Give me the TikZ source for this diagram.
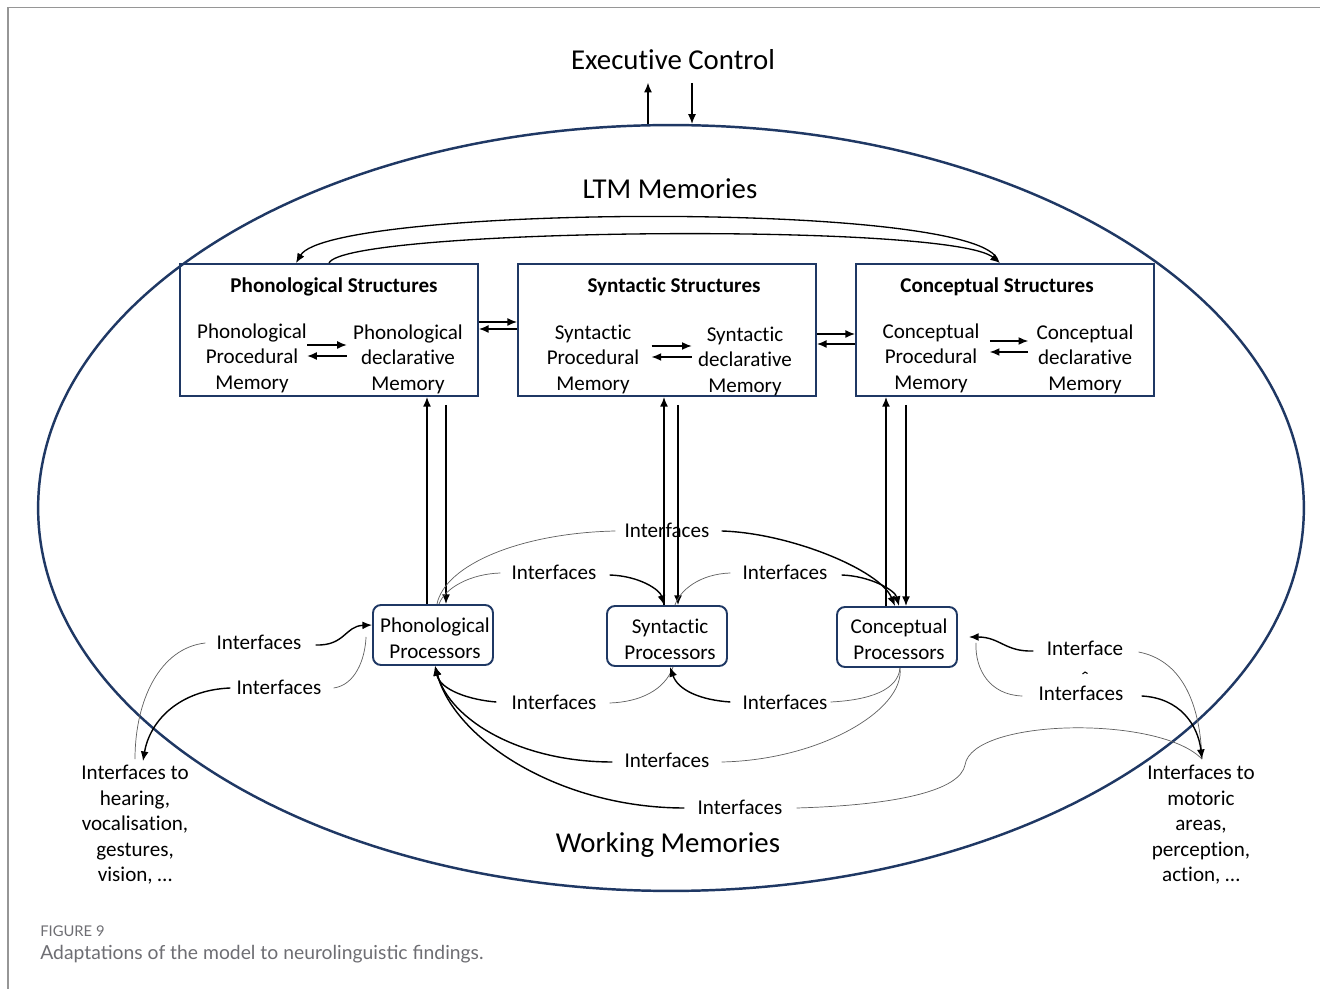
\documentclass[tikz,border=0pt]{standalone}
\usepackage{fontspec}
\setmainfont{Carlito}[Ligatures={NoCommon,NoDiscretionary,NoContextual}]
\newfontfamily\capfont{Lato}
\usetikzlibrary{arrows.meta,shapes.geometric,calc}
\definecolor{navy}{RGB}{31,56,100}
\definecolor{capgray}{RGB}{110,110,115}
\definecolor{linkgray}{RGB}{95,95,95}
\definecolor{framegray}{RGB}{150,150,150}
\tikzset{
  big/.style={font=\fontsize{16.4}{19}\selectfont, inner sep=0},
  txt/.style={font=\fontsize{12}{14.5}\selectfont, align=center, inner sep=0},
  ptxt/.style={font=\fontsize{12}{14.8}\selectfont, align=center, inner sep=0},
  ttl/.style={font=\bfseries\fontsize{12}{14.5}\selectfont, inner sep=0},
  iface/.style={font=\fontsize{12}{14.5}\selectfont, inner sep=0},
  structbox/.style={draw=navy, line width=1.1pt, minimum width=5.96cm, minimum height=2.64cm, inner sep=0},
  procbox/.style={draw=navy, line width=1.1pt, rounded corners=4.5pt, minimum width=2.4cm,
    minimum height=1.2cm, inner sep=0},
  arr/.style={-{Latex[length=5.5pt,width=4.5pt]}, line width=0.75pt},
  flow/.style={-{Latex[length=5.5pt,width=4.5pt]}, line width=0.8pt},
  link/.style={draw=linkgray, line width=0.4pt},
}
\begin{document}
\begin{tikzpicture}[x=0.02cm,y=-0.02cm]
\fill[white] (0,0) rectangle (1320,989);
\useasboundingbox (0,0) rectangle (1320,989);
\draw[framegray, line width=0.9pt] (8,989) -- (8,7.5) -- (1320,7.5);

% outer memory ellipse
\node[draw=navy, line width=1.4pt, ellipse, minimum width=25.32cm, minimum height=15.32cm, inner sep=0] (wm) at (671,508) {};

% headings
\node[big] (exec) at (673,60) {Executive Control};
\node[big] (ltm) at (670,189) {LTM Memories};
\node[big] (wml) at (668,845) {Working Memories};

% executive control links
\coordinate (eu) at ($(wm.north)+(-23,0)$);
\coordinate (ed) at ($(wm.north)+(21,0)$);
\draw[arr, line width=0.6pt, shorten >=7pt] (eu) -- (eu |- exec.south);
\draw[arr, line width=0.6pt, shorten <=7pt] (ed |- exec.south) -- (ed);

% structures
\node[structbox] (phs) at (329,330) {};
\node[ttl] (pht) at (334,287) {Phonological Structures};
\node[txt] (phl) at (252,358) {Phonological\\Procedural\\Memory};
\node[txt] (phr) at (408,359) {Phonological\\declarative\\Memory};
\draw[arr] ($(phl.east)+(0,-13)$) -- ($(phr.west)+(-6,-14)$);
\draw[arr] ($(phr.west)+(-6,-3)$) -- ($(phl.east)+(0,-2)$);

\node[structbox] (sys) at (667,330) {};
\node[ttl] (syt) at (674,287) {Syntactic Structures};
\node[txt] (syl) at (593,359) {Syntactic\\Procedural\\Memory};
\node[txt] (syr) at (745,361) {Syntactic\\declarative\\Memory};
\draw[arr] ($(syl.east)+(12,-13)$) -- ($(syr.west)+(-6,-15)$);
\draw[arr] ($(syr.west)+(-6,-4)$) -- ($(syl.east)+(12,-2)$);

\node[structbox] (cos) at (1005,330) {};
\node[ttl] (cot) at (997,287) {Conceptual Structures};
\node[txt] (col) at (931,358) {Conceptual\\Procedural\\Memory};
\node[txt] (cor) at (1085,359) {Conceptual\\declarative\\Memory};
\draw[arr] ($(col.east)+(10,-17)$) -- ($(cor.west)+(-8,-18)$);
\draw[arr] ($(cor.west)+(-8,-7)$) -- ($(col.east)+(10,-6)$);

% links between structures
\draw[arr] ($(phs.east)+(0,-8)$) -- ($(sys.west)+(0,-8)$);
\draw[arr] ($(sys.west)+(0,-1)$) -- ($(phs.east)+(0,-1)$);
\draw[arr] ($(sys.east)+(0,4)$) -- ($(cos.west)+(0,4)$);
\draw[arr] ($(cos.west)+(0,14)$) -- ($(sys.east)+(0,14)$);
\draw[arr] (phs.north) .. controls (345,228) and (950,222) .. ($(cos.north)+(-5,0)$);
\draw[arr] ($(cos.north)+(-7,-2)$) .. controls (985,200) and (330,205) .. ($(phs.north)+(-33,0)$);

% processors
\node[procbox] (pp) at (433,635) {};
\node[procbox] (sp) at (667,636) {};
\node[procbox] (cp) at (897,637) {};
\node[ptxt] (ppt) at (435,638) {Phonological\\Processors};
\node[ptxt] (spt) at (670,639) {Syntactic\\Processors};
\node[ptxt] (cpt) at (899,639) {Conceptual\\Processors};

% structure <-> processor links
\coordinate (p1) at ($(pp.north)+(-6,0)$);
\coordinate (p2) at ($(pp.north)+(13,0)$);
\draw[arr] (p1) -- (p1 |- phs.south);
\draw[arr] ($(p2 |- phs.south)+(0,8)$) -- (p2);
\coordinate (s1) at ($(sp.north)+(-3,0)$);
\coordinate (s2) at ($(sp.north)+(11,0)$);
\draw[arr] (s1) -- (s1 |- sys.south);
\draw[arr] ($(s2 |- sys.south)+(0,8)$) -- (s2);
\coordinate (c1) at ($(cp.north)+(-11,0)$);
\coordinate (c2) at ($(cp.north)+(9,0)$);
\draw[arr] (c1) -- (c1 |- cos.south);
\draw[arr] ($(c2 |- cos.south)+(0,8)$) -- (c2);

% outside interfaces
\node[txt] (hear) at (135,825) {Interfaces to\\hearing,\\vocalisation,\\gestures,\\vision, \dots};
\node[txt] (mot) at (1201,825) {Interfaces to\\motoric\\areas,\\perception,\\action, \dots};
\coordinate (hearin) at ($(hear.north)+(0,-6)$);
\coordinate (motin) at ($(mot.north)+(1,-6)$);

% interfaces between processors
\node[iface] (i1) at (667,530) {Interfaces};
\draw[link] ($(i1.west)+(-9,1)$) .. controls (520,533) and (445,565) .. ($(pp.north)+(4,0)$);
\draw[flow] ($(i1.east)+(12,1)$) .. controls (790,533) and (880,570) .. ($(cp.north)+(-2,0)$);

\node[iface] (i2) at (554,572) {Interfaces};
\draw[link] ($(i2.west)+(-11,1)$) .. controls (470,574) and (445,588) .. ($(pp.north)+(6,0)$);
\draw[flow] ($(i2.east)+(13,3)$) .. controls (640,576) and (660,590) .. ($(sp.north)+(-3,0)$);

\node[iface] (i3) at (785,572) {Interfaces};
\draw[link] ($(i3.west)+(-12,1)$) .. controls (700,574) and (680,590) .. ($(sp.north)+(8,0)$);
\draw[flow] ($(i3.east)+(14,3)$) .. controls (870,576) and (895,590) .. ($(cp.north)+(2,0)$);

\node[iface] (i4) at (554,702) {Interfaces};
\draw[flow] ($(i4.west)+(-15,0)$) .. controls (470,700) and (440,690) .. ($(pp.south)+(2,0)$);
\draw[link] ($(i4.east)+(13,1)$) .. controls (640,702) and (665,690) .. ($(sp.south)+(6,0)$);

\node[iface] (i5) at (785,702) {Interfaces};
\draw[flow] ($(i5.west)+(-12,0)$) .. controls (700,700) and (678,690) .. ($(sp.south)+(3,0)$);
\draw[link] ($(i5.east)+(3,0)$) .. controls (870,700) and (898,690) .. ($(cp.south)+(3,0)$);

\node[iface] (i6) at (667,760) {Interfaces};
\draw[flow] ($(i6.west)+(-12,2)$) .. controls (520,762) and (450,720) .. ($(pp.south)+(2,0)$);
\draw[link] ($(i6.east)+(12,2)$) .. controls (820,760) and (905,710) .. ($(cp.south)+(3,0)$);

\node[iface] (i7) at (740,807) {Interfaces};
\draw[flow] ($(i7.west)+(-13,1)$) .. controls (560,808) and (455,740) .. ($(pp.south)+(2,0)$);
\draw[link] ($(i7.east)+(14,1)$) .. controls (900,805) and (960,790) .. (965,765)
   .. controls (972,718) and (1160,715) .. (motin);

% interfaces to the outside, left
\node[iface] (i8) at (259,642) {Interfaces};
\draw[flow] ($(i8.east)+(14,3)$) .. controls (345,646) and (345,626) .. ($(pp.west)+(0,-10)$);
\draw[link] ($(i8.west)+(-11,1)$) .. controls (160,648) and (135,700) .. (hearin);

\node[iface] (i9) at (279,687) {Interfaces};
\draw[link] ($(i9.east)+(12,1)$) .. controls (355,685) and (365,660) .. ($(pp.west)+(-6,2)$);
\draw[flow] ($(i9.west)+(-6,1)$) .. controls (180,690) and (150,720) .. ($(hearin)+(8,2)$);

% interfaces to the outside, right (second line of the label is cut off)
\node[iface] (i10) at (1085,648) {Interface};
\draw[line width=0.6pt] (1082.5,674) .. controls (1083.5,671.5) and (1086.5,671.5) .. (1087.5,673.5);
\draw[flow] ($(i10.west)+(-13,3)$) .. controls (1005,652) and (1000,637) .. ($(cp.east)+(11,0)$);
\draw[link] ($(i10.east)+(15,4)$) .. controls (1180,660) and (1200,700) .. (motin);

\node[iface] (i11) at (1081,693) {Interfaces};
\draw[link] ($(i11.west)+(-16,3)$) .. controls (990,695) and (975,670) .. ($(cp.east)+(18,6)$);
\draw[flow] ($(i11.east)+(18,3)$) .. controls (1180,698) and (1198,725) .. (motin);

% caption
\node[anchor=west, inner sep=0, text=capgray, font=\capfont\fontsize{8.4}{10}\selectfont] (fig) at (40,931) {FIGURE 9};
\node[anchor=west, inner sep=0, text=capgray, font=\capfont\fontsize{11}{13}\selectfont] (cap) at (40,954) {Adaptations of the model to neurolinguistic findings.};
\end{tikzpicture}
\end{document}
